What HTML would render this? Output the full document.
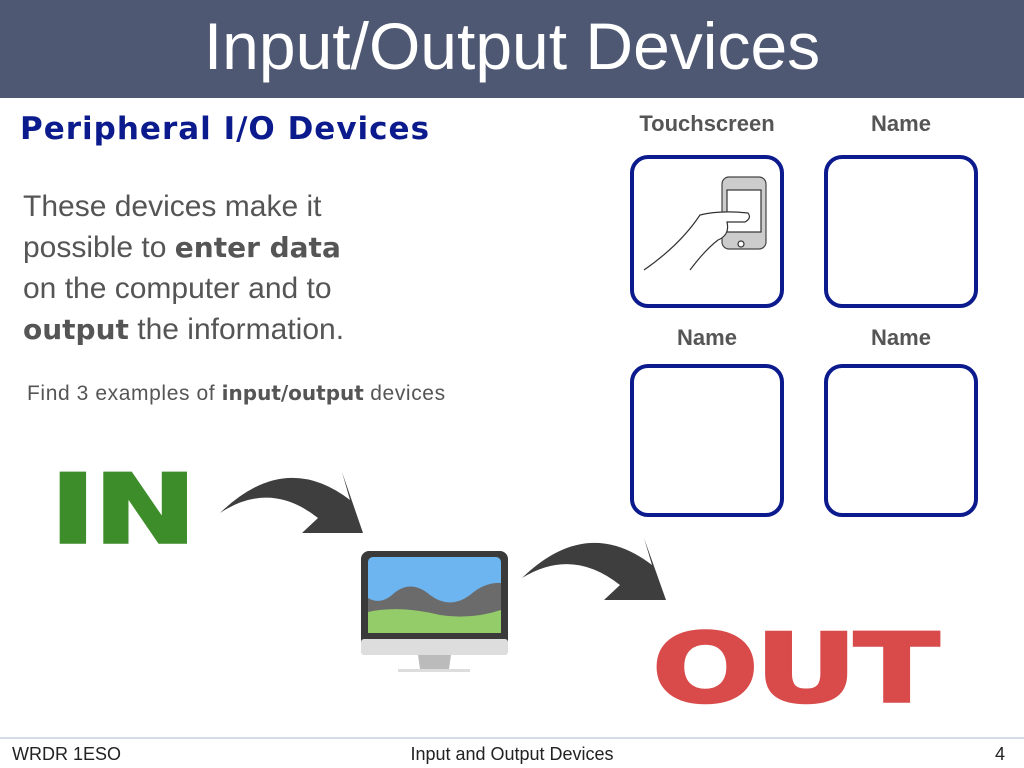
<!DOCTYPE html>
<html><head><meta charset="utf-8"><style>
body{margin:0;width:1024px;height:768px;position:relative;background:#fff;font-family:"Liberation Sans",sans-serif;overflow:hidden}
.a{position:absolute;white-space:nowrap}
.box{position:absolute;width:146px;height:145px;border:4px solid #0b1a8c;border-radius:18px;background:#fff}
.lbl{position:absolute;width:200px;text-align:center;font-weight:bold;font-size:22px;color:#555}
b{font-family:"DejaVu Sans",sans-serif;font-weight:bold}
</style></head><body>
<div class="a" style="left:0;top:0;width:1024px;height:98px;background:#4f5872"></div>
<div class="a" style="left:0;top:8px;width:1024px;text-align:center;color:#fff;font-size:66px;font-weight:300;letter-spacing:0px">Input/Output Devices</div>
<div class="a" style="left:20px;top:111px;font-size:31px;font-weight:bold;color:#0b1a8c;letter-spacing:1px;font-family:'DejaVu Sans',sans-serif">Peripheral I/O Devices</div>
<div class="a" style="left:23px;top:186px;font-size:30px;color:#555;line-height:41px">These devices make it<br>possible to <b style="font-size:28px">enter data</b><br>on the computer and to<br><b style="font-size:28px">output</b> the information.</div>
<div class="a" style="left:27px;top:381px;font-size:21px;color:#555;letter-spacing:0.6px">Find 3 examples of <b style="font-size:20px;letter-spacing:0">input/output</b> devices</div>
<div class="lbl" style="left:607px;top:111px">Touchscreen</div>
<div class="lbl" style="left:801px;top:111px">Name</div>
<div class="lbl" style="left:607px;top:325px">Name</div>
<div class="lbl" style="left:801px;top:325px">Name</div>
<div class="box" style="left:630px;top:155px"></div>
<div class="box" style="left:824px;top:155px"></div>
<div class="box" style="left:630px;top:364px"></div>
<div class="box" style="left:824px;top:364px"></div>
<svg class="a" style="left:0;top:0" width="1024" height="768">
<g stroke="#333" fill="none" stroke-width="1.2">
<rect x="722" y="177" width="44" height="72" rx="7" fill="#ccc" stroke="#444"/>
<rect x="727" y="190" width="34" height="42" fill="#fff"/>
<circle cx="741" cy="244" r="3" fill="#fff"/>
<path d="M644 270 Q680 245 700 215 Q720 210 748 213 Q752 218 745 222 L727 222 Q730 235 718 240 Q705 250 690 270" fill="#fff"/>
</g>
<path d="M220 513 Q285 450 350 500 L342 472 L363 533 L302 533 L318 518 Q270 480 220 513Z" fill="#3e3e3e"/>
<path d="M522 578 Q587 515 652 565 L644 538 L666 600 L604 600 L620 585 Q572 547 522 578Z" fill="#3e3e3e"/>
<rect x="361" y="551" width="147" height="104" rx="8" fill="#3a3a3a"/>
<rect x="361" y="639" width="147" height="16" rx="3" fill="#ddd"/>
<rect x="368" y="557" width="133" height="76" rx="5" fill="#6db5f0"/>
<path d="M368 598 Q380 605 392 595 Q410 578 430 595 Q450 610 470 595 Q485 582 501 583 L501 633 L368 633Z" fill="#6b6b6b"/>
<path d="M368 612 Q400 605 440 615 Q470 620 501 610 L501 633 L368 633Z" fill="#94cc6a"/>
<rect x="368" y="630" width="133" height="3" fill="#94cc6a"/>
<path d="M418 655 L451 655 L449 669 L420 669Z" fill="#bbb"/>
<rect x="398" y="669" width="72" height="3" fill="#ddd"/>
<line x1="0" y1="738" x2="1024" y2="738" stroke="#a9b8d4" stroke-width="1"/>
</svg>
<div class="a" style="left:50px;top:454px;font-size:114px;font-weight:900;color:#3d8d2b;letter-spacing:-2px;font-family:'DejaVu Sans',sans-serif;-webkit-text-stroke:3px #3d8d2b;transform:scale(1.08,0.835);transform-origin:0 0">IN</div>
<div class="a" style="left:652px;top:613px;font-size:114px;font-weight:900;color:#d94b4b;letter-spacing:-3px;font-family:'DejaVu Sans',sans-serif;-webkit-text-stroke:3px #d94b4b;transform:scale(1.1,0.837);transform-origin:0 0">OUT</div>
<div class="a" style="left:12px;top:744px;font-size:18px;color:#222">WRDR 1ESO</div>
<div class="a" style="left:0;top:744px;width:1024px;text-align:center;font-size:18px;color:#222">Input and Output Devices</div>
<div class="a" style="left:995px;top:744px;font-size:18px;color:#222">4</div>
</body></html>
